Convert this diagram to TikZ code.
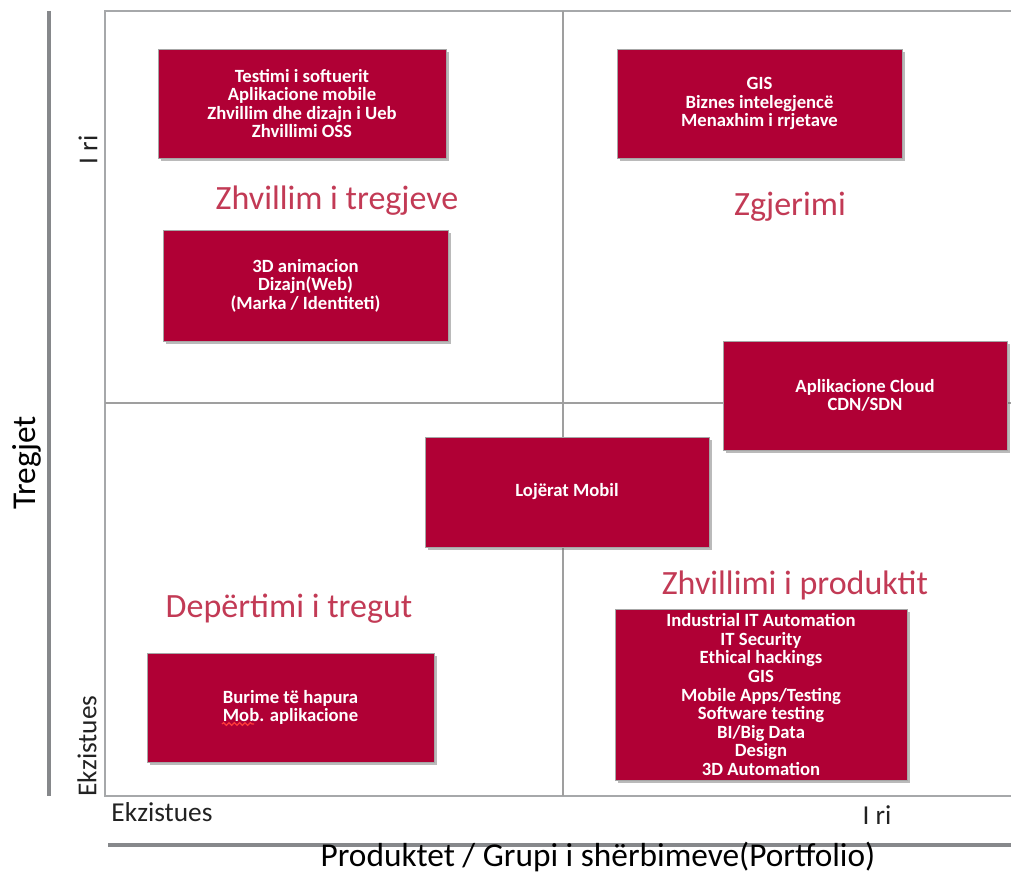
\documentclass[tikz,border=0pt]{standalone}
\usepackage{fontspec}
\setmainfont{Carlito}
\usetikzlibrary{shadows,decorations.pathmorphing}
\definecolor{boxred}{HTML}{B00035}
\definecolor{labred}{HTML}{C23A55}
\definecolor{framegray}{HTML}{A6A8AA}
\definecolor{bargray}{HTML}{86888B}
\definecolor{txtgray}{HTML}{222222}
\definecolor{spellred}{HTML}{FF3A3A}
\tikzset{
  itembox/.style={fill=boxred, draw=gray!70, line width=0.6pt, align=center,
    text=white, font=\bfseries\fontsize{14}{13.9}\selectfont, inner sep=0pt,
    drop shadow={shadow xshift=2.2pt, shadow yshift=-2.2pt, opacity=0.45, fill=black!60}},
  quadlabel/.style={text=labred, font=\fontsize{25.5}{28}\selectfont, inner sep=0pt},
  axislabel/.style={text=txtgray, font=\fontsize{20.5}{24}\selectfont, inner sep=0pt},
  bigaxis/.style={text=black, font=\fontsize{25}{28}\selectfont, inner sep=0pt},
  frameline/.style={draw=framegray, line width=1.3pt},
  midline/.style={draw=gray!75, line width=0.8pt},
  bar/.style={draw=bargray, line width=3.6pt},
  squiggle/.style={draw=spellred, line width=0.9pt, decorate,
    decoration={snake, amplitude=1pt, segment length=4pt}},
}
\begin{document}
\begin{tikzpicture}[x=0.75pt,y=-0.75pt]
\useasboundingbox (0,0) rectangle (1011,874);
% frame
\coordinate (ftl) at (105,11);
\coordinate (fbr) at (1013,796);
\draw[frameline] (ftl) rectangle (fbr);
% midlines
\coordinate (vt) at (563,11);
\coordinate (vb) at (563,796);
\coordinate (hl) at (105,403);
\coordinate (hr) at (1011,403);
\draw[midline] (vt) -- (vb);
\draw[midline] (hl) -- (hr);
% axis bars
\coordinate (lbt) at (49,11);
\coordinate (lbb) at (49,796);
\draw[bar] (lbt) -- (lbb);
\coordinate (bbl) at (108,845);
\coordinate (bbr) at (1011,845);
\draw[bar] (bbl) -- (bbr);
% boxes
\node[itembox, minimum width=288*0.75pt, minimum height=109*0.75pt] (b1) at (302,103.5)
  {Testimi i softuerit\\Aplikacione mobile\\Zhvillim dhe dizajn i Ueb\\Zhvillimi OSS};
\node[itembox, minimum width=285*0.75pt, minimum height=109*0.75pt] (b2) at (759.5,103.5)
  {GIS\\Biznes intelegjencë\\Menaxhim i rrjetave};
\node[itembox, minimum width=285*0.75pt, minimum height=111*0.75pt] (b3) at (305.5,285.5)
  {3D animacion\\Dizajn(Web)\\(Marka / Identiteti)};
\node[itembox, minimum width=284*0.75pt, minimum height=109*0.75pt] (b4) at (865,395.5)
  {Aplikacione Cloud\\CDN/SDN};
\node[itembox, minimum width=284*0.75pt, minimum height=110*0.75pt] (b5) at (567,492)
  {Lojërat Mobil};
\node[itembox, minimum width=292*0.75pt, minimum height=171*0.75pt] (b6) at (761,694.5)
  {Industrial IT Automation\\IT Security\\Ethical hackings\\GIS\\Mobile Apps/Testing\\Software testing\\BI/Big Data\\Design\\3D Automation};
\node[itembox, minimum width=287*0.75pt, minimum height=109*0.75pt] (b7) at (290.5,707.5)
  {Burime të hapura\\Mob. aplikacione};
\coordinate (sq1) at (222,724);
\coordinate (sq2) at (254,724);
\draw[squiggle] (sq1) -- (sq2);
% quadrant labels
\node[quadlabel] (q1) at (337,201) {Zhvillim i tregjeve};
\node[quadlabel] (q2) at (790,207) {Zgjerimi};
\node[quadlabel] (q3) at (289,609) {Depërtimi i tregut};
\node[quadlabel] (q4) at (795,585) {Zhvillimi i produktit};
% axis labels
\node[axislabel, rotate=90] (yri) at (88,150) {I ri};
\node[axislabel, rotate=90] (yex) at (87,746) {Ekzistues};
\node[axislabel] (xex) at (162,812) {Ekzistues};
\node[axislabel] (xri) at (877,815) {I ri};
\node[bigaxis, rotate=90] (ytit) at (27,463) {Tregjet};
\node[bigaxis] (xtit) at (598,857) {Produktet / Grupi i shërbimeve(Portfolio)};
\end{tikzpicture}
\end{document}
